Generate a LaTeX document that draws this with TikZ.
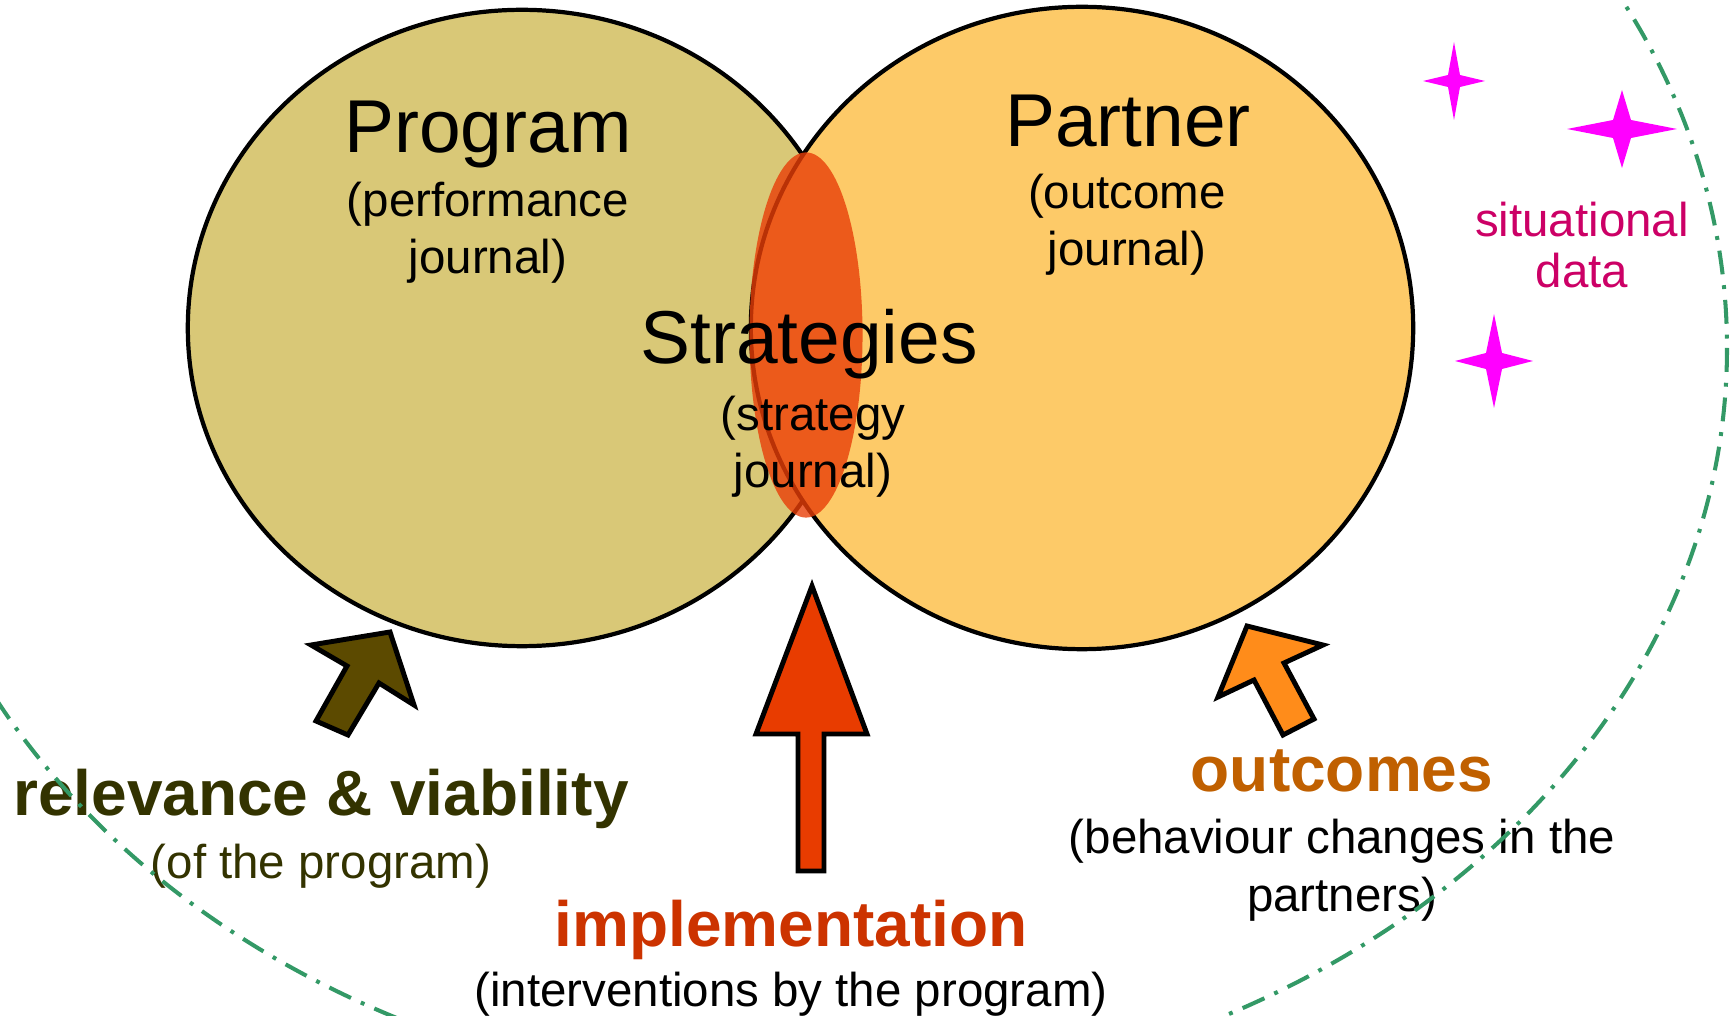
\documentclass[tikz,border=0pt]{standalone}
\usepackage{fontspec}
\setmainfont{Liberation Sans}
\usepackage{xcolor}
\usepackage{tikz}
\usetikzlibrary{shapes,arrows,positioning,calc,shapes.geometric}

\definecolor{khaki}{RGB}{217,200,119}
\definecolor{apricot}{RGB}{253,202,104}
\definecolor{lenscol}{RGB}{232,62,8}
\definecolor{relevcol}{RGB}{51,51,0}
\definecolor{implcol}{RGB}{204,51,0}
\definecolor{outccol}{RGB}{192,96,0}
\definecolor{situcol}{RGB}{204,0,102}
\definecolor{sparkcol}{RGB}{255,0,255}
\definecolor{relevarrow}{RGB}{92,74,0}
\definecolor{implarrow}{RGB}{232,60,0}
\definecolor{outcarrow}{RGB}{255,140,26}
\definecolor{boundcol}{RGB}{51,153,102}

\begin{document}
\begin{tikzpicture}[x=0.01cm, y=-0.01cm]
    \tikzstyle{blob} = [ellipse, draw=black, line width=1.2pt, inner sep=0pt, outer sep=0pt]
    \tikzstyle{bigtxt} = [anchor=base, inner sep=0pt, font=\fontsize{21.3}{25}\selectfont]
    \tikzstyle{subtxt} = [anchor=base, inner sep=0pt, align=center, font=\fontsize{13.5}{16.4}\selectfont]
    \tikzstyle{boldtxt} = [anchor=base, inner sep=0pt, font=\bfseries\fontsize{18.2}{22}\selectfont]
    \tikzstyle{blockarrow} = [draw=black, line width=1.4pt, line join=miter]
    \tikzstyle{spark} = [fill=sparkcol]
    \tikzstyle{boundary} = [draw=boundcol, line width=1.15pt, dash pattern=on 6.8pt off 3.1pt on 1.1pt off 3.1pt]

    \useasboundingbox (0,0) rectangle (1730,1016);
    \clip (0,0) rectangle (1730,1016);

    % circles
    \node [blob, fill=khaki, minimum width=6.68cm, minimum height=6.36cm] (prog) at (522,328) {};
    \node [blob, fill=apricot, minimum width=6.62cm, minimum height=6.42cm] (part) at (1082,328) {};
    \node [ellipse, fill=lenscol, fill opacity=0.8, inner sep=0pt, minimum width=1.13cm, minimum height=3.65cm] (lens) at (806,335) {};

    % texts in the circles (multi-line nodes sit on their last line)
    \node [bigtxt] (progname) at (488,153) {Program};
    \node [subtxt] (progsub) at (488,274) {(performance\\journal)};
    \node [bigtxt] (partname) at (1128,147) {Partner};
    \node [subtxt] (partsub) at (1127,266) {(outcome\\journal)};
    \node [bigtxt] (stratname) at (809,364) {Strategies};
    \node [subtxt] (stratsub) at (813,488) {(strategy\\journal)};

    % situational data
    \foreach \sx/\sy/\sw/\sh/\si in {1454/81/31/39/6, 1622/129/55/39/9, 1494/361/39/47/8}
        \fill [spark] (\sx,\sy-\sh) -- (\sx+\si,\sy-\si) -- (\sx+\sw,\sy) -- (\sx+\si,\sy+\si)
            -- (\sx,\sy+\sh) -- (\sx-\si,\sy+\si) -- (\sx-\sw,\sy) -- (\sx-\si,\sy-\si) -- cycle;
    \node [subtxt, text=situcol, font=\fontsize{13.5}{14.6}\selectfont] (situ) at (1582,288) {situational\\data};

    % block arrows
    \draw [blockarrow, fill=relevarrow] (390,632) -- (414,705) -- (379,683) -- (348,735)
        -- (316,721) -- (347,666) -- (311,645) -- cycle;
    \draw [blockarrow, fill=implarrow] (812,586) -- (867,734) -- (824,734) -- (824,871)
        -- (798,871) -- (798,734) -- (756,734) -- cycle;
    \draw [blockarrow, fill=outcarrow] (1247,626) -- (1323,645) -- (1284,663) -- (1314,719)
        -- (1283,735) -- (1254,680) -- (1218,697) -- cycle;

    % labels below
    \node [boldtxt, text=relevcol] (relev) at (321,816) {relevance \& viability};
    \node [subtxt, text=relevcol] (relevsub) at (321,879) {(of the program)};
    \node [boldtxt, text=implcol] (impl) at (791,946) {implementation};
    \node [subtxt] (implsub) at (791,1006) {(interventions by the program)};
    \node [boldtxt, text=outccol] (outc) at (1342,791) {outcomes};
    \node [subtxt] (outcsub) at (1342,911) {(behaviour changes in the\\partners)};

    % context
    \draw [boundary] (808,348) ellipse [x radius=919, y radius=749];
\end{tikzpicture}
\end{document}
